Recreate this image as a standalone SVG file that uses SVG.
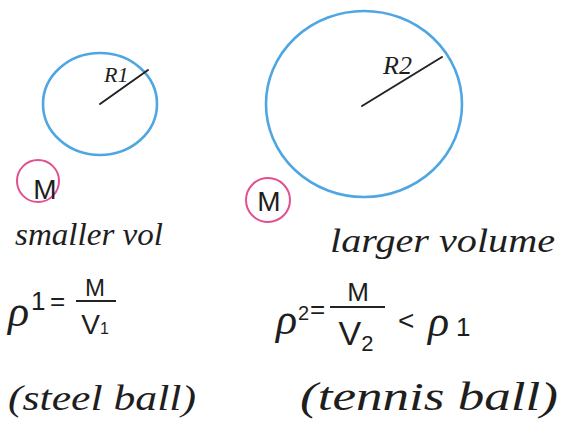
<svg xmlns="http://www.w3.org/2000/svg" width="571" height="434" viewBox="0 0 571 434">
<style>
.ball{fill:none;stroke:#4ea6e2;stroke-width:2.6}
.rad{stroke:#222;stroke-width:2;stroke-linecap:round}
.ring{fill:none;stroke:#e2508f;stroke-width:2}
.t{font-family:"Liberation Sans","DejaVu Sans",sans-serif;fill:#1e1e1e}
.h{font-family:"Liberation Serif","DejaVu Serif",serif;font-style:italic;fill:#1e1e1e}
.bar{stroke:#222;stroke-width:2}
</style>
<rect width="571" height="434" fill="#ffffff"/>
<g id="small-ball">
<ellipse class="ball" cx="100" cy="104" rx="57" ry="51"/>
<line class="rad" x1="100" y1="104" x2="148" y2="70"/>
<text class="h" x="104" y="82" font-size="22">R1</text>
</g>
<g id="large-ball">
<ellipse class="ball" cx="364" cy="104" rx="98" ry="93"/>
<line class="rad" x1="362" y1="106" x2="442" y2="57"/>
<text class="h" x="383" y="74" font-size="26">R2</text>
</g>
<g id="mass-1">
<circle class="ring" cx="38" cy="181" r="21"/>
<text class="t" x="45" y="199" font-size="28" text-anchor="middle">M</text>
</g>
<g id="mass-2">
<circle class="ring" cx="268" cy="200" r="22"/>
<text class="t" x="269" y="211" font-size="28" text-anchor="middle">M</text>
</g>
<g id="label-small">
<text class="h" x="15" y="245" font-size="32" textLength="148" lengthAdjust="spacingAndGlyphs">smaller vol</text>
</g>
<g id="label-large">
<text class="h" x="330" y="252" font-size="34" textLength="225" lengthAdjust="spacingAndGlyphs">larger volume</text>
</g>
<g id="formula-1">
<text class="h" x="8" y="326" font-size="44">ρ</text>
<text class="t" x="31" y="310" font-size="26">1</text>
<text class="t" x="50" y="310" font-size="26">=</text>
<text class="t" x="95" y="296" font-size="24" text-anchor="middle">M</text>
<line class="bar" x1="76" y1="301" x2="116" y2="301"/>
<text class="t" x="95" y="334" font-size="28" text-anchor="middle">V<tspan font-size="16">1</tspan></text>
</g>
<g id="formula-2">
<text class="h" x="276" y="334" font-size="44">ρ</text>
<text class="t" x="298" y="320" font-size="20">2</text>
<text class="t" x="310" y="318" font-size="26">=</text>
<text class="t" x="358" y="301" font-size="26" text-anchor="middle">M</text>
<line class="bar" x1="330" y1="307" x2="385" y2="307"/>
<text class="t" x="356" y="345" font-size="34" text-anchor="middle">V<tspan font-size="22" dy="6">2</tspan></text>
<text class="t" x="398" y="330" font-size="28">&lt;</text>
<text class="h" x="428" y="336" font-size="44">ρ</text>
<text class="t" x="456" y="336" font-size="26">1</text>
</g>
<g id="caption-1">
<text class="h" x="8" y="410" font-size="36" textLength="188" lengthAdjust="spacingAndGlyphs">(steel ball)</text>
</g>
<g id="caption-2">
<text class="h" x="300" y="410" font-size="40" textLength="258" lengthAdjust="spacingAndGlyphs">(tennis ball)</text>
</g>
</svg>
